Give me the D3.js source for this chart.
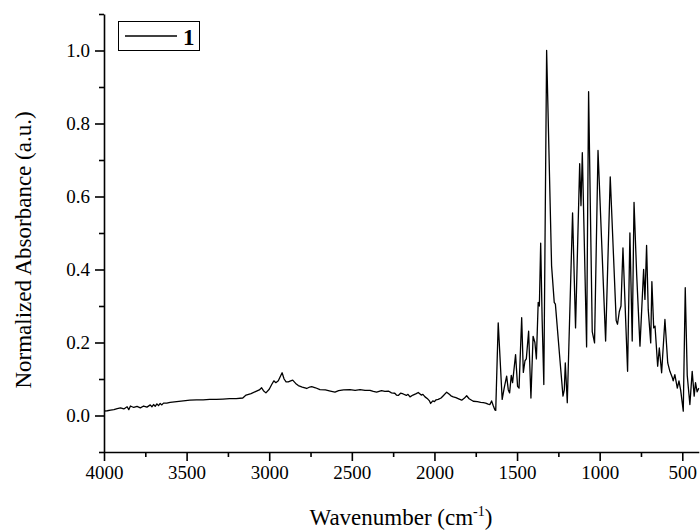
<!DOCTYPE html>
<html>
<head>
<meta charset="utf-8">
<script src="https://cdn.jsdelivr.net/npm/d3@7"></script>
<style>
  html, body { margin: 0; padding: 0; background: #fff; }
  svg { display: block; }
  svg text { font-family: "Liberation Serif", "Times New Roman", Times, Tinos, "DejaVu Serif", serif !important; fill: #000; }
</style>
</head>
<body>
<svg id="chart" width="700" height="531"></svg>
<script>
// ---- data ----
const wavenumber = [
  4000, 3980, 3960, 3940, 3920, 3900, 3880, 3860, 3850, 3840, 3820, 3800, 3780, 3760, 3740, 3720, 3710, 3700,
  3690, 3680, 3670, 3660, 3650, 3640, 3620, 3600, 3560, 3520, 3480, 3440, 3400, 3360, 3320, 3280, 3240, 3200,
  3160, 3140, 3110, 3080, 3060, 3046, 3035, 3020, 3000, 2985, 2972, 2960, 2945, 2935, 2922, 2910, 2898, 2885,
  2870, 2858, 2840, 2824, 2800, 2773, 2755, 2743, 2720, 2693, 2660, 2630, 2602, 2580, 2550, 2511, 2480, 2450,
  2420, 2390, 2370, 2350, 2320, 2300, 2279, 2260, 2240, 2230, 2219, 2205, 2189, 2170, 2160, 2148, 2130, 2110,
  2098, 2080, 2070, 2057, 2040, 2030, 2023, 2010, 2000, 1990, 1977, 1960, 1945, 1926, 1910, 1900, 1886, 1870,
  1850, 1835, 1820, 1805, 1790, 1765, 1740, 1720, 1704, 1690, 1675, 1664, 1654, 1645, 1634, 1629, 1614, 1590,
  1578, 1563, 1553, 1545, 1535, 1527, 1509, 1497, 1488, 1472, 1462, 1452, 1444, 1430, 1416, 1403, 1392, 1383,
  1372, 1365, 1357, 1348, 1338, 1321, 1291, 1275, 1268, 1240, 1222, 1214, 1208, 1196, 1164, 1146, 1121, 1113,
  1105, 1079, 1067, 1045, 1031, 1010, 964, 936, 900, 892, 881, 871, 859, 831, 817, 803, 792, 776,
  756, 734, 726, 716, 706, 691, 684, 673, 665, 649, 639, 625, 605, 588, 575, 561, 555, 545,
  530, 520, 510, 494, 482, 470, 454, 440, 428, 420, 410, 400
];
const absorbance = [
  0.012, 0.013, 0.015, 0.016, 0.019, 0.021, 0.018, 0.024, 0.016, 0.026, 0.022, 0.025, 0.021, 0.026, 0.023, 0.029, 0.024, 0.030,
  0.025, 0.032, 0.027, 0.033, 0.029, 0.034, 0.034, 0.036, 0.038, 0.040, 0.042, 0.043, 0.043, 0.044, 0.044, 0.045, 0.046, 0.046,
  0.048, 0.056, 0.060, 0.066, 0.070, 0.076, 0.068, 0.062, 0.072, 0.085, 0.095, 0.090, 0.095, 0.105, 0.117, 0.100, 0.092, 0.092,
  0.095, 0.097, 0.088, 0.082, 0.078, 0.074, 0.078, 0.079, 0.076, 0.071, 0.070, 0.067, 0.064, 0.068, 0.070, 0.071, 0.069, 0.071,
  0.069, 0.069, 0.066, 0.064, 0.068, 0.066, 0.067, 0.062, 0.061, 0.056, 0.055, 0.061, 0.059, 0.055, 0.058, 0.051, 0.056, 0.060,
  0.063, 0.056, 0.058, 0.051, 0.045, 0.040, 0.033, 0.040, 0.038, 0.043, 0.044, 0.048, 0.055, 0.064, 0.058, 0.054, 0.051, 0.049,
  0.045, 0.042, 0.047, 0.054, 0.046, 0.039, 0.038, 0.036, 0.035, 0.034, 0.031, 0.030, 0.040, 0.028, 0.015, 0.014, 0.254, 0.044,
  0.075, 0.108, 0.070, 0.062, 0.110, 0.090, 0.167, 0.080, 0.075, 0.268, 0.118, 0.150, 0.155, 0.231, 0.048, 0.217, 0.200, 0.155,
  0.310, 0.300, 0.472, 0.260, 0.085, 1.000, 0.410, 0.310, 0.305, 0.150, 0.053, 0.070, 0.144, 0.035, 0.555, 0.240, 0.690, 0.575,
  0.720, 0.188, 0.887, 0.230, 0.199, 0.726, 0.204, 0.654, 0.260, 0.250, 0.285, 0.300, 0.459, 0.121, 0.500, 0.204, 0.584, 0.386,
  0.190, 0.400, 0.318, 0.466, 0.290, 0.199, 0.367, 0.240, 0.245, 0.135, 0.185, 0.117, 0.263, 0.144, 0.121, 0.105, 0.095, 0.112,
  0.075, 0.095, 0.070, 0.012, 0.350, 0.110, 0.030, 0.121, 0.053, 0.090, 0.065, 0.075
];
const xMajorTicks = [4000, 3500, 3000, 2500, 2000, 1500, 1000, 500];
const xMinorTicks = [3750, 3250, 2750, 2250, 1750, 1250, 750];
const yMajorTicks = [0.0, 0.2, 0.4, 0.6, 0.8, 1.0];
const yMinorTicks = [-0.1, 0.1, 0.3, 0.5, 0.7, 0.9, 1.1];
const seriesName = "1";
const xTitle = "Wavenumber (cm";
const xTitleSup = "-1";
const yTitle = "Normalized Absorbance (a.u.)";

// ---- chart ----
const FONT = '"Liberation Serif", "Times New Roman", Times, Tinos, "DejaVu Serif", serif';
const svg = d3.select("#chart");
const x = d3.scaleLinear().domain([4000, 400]).range([104, 698.8]);
const y = d3.scaleLinear().domain([-0.1, 1.1]).range([452, 14]);

const data = wavenumber.map((w, i) => ({ w, a: absorbance[i] }));

// spectrum
svg.append("path")
  .datum(data)
  .attr("fill", "none")
  .attr("stroke", "#000")
  .attr("stroke-width", 1.3)
  .attr("stroke-linejoin", "round")
  .attr("d", d3.line().x(d => x(d.w)).y(d => y(d.a)));

// axes
function styleAxis(g) {
  g.attr("font-family", FONT);
  g.select(".domain").attr("stroke", "#000").attr("stroke-width", 1.6);
  g.selectAll(".tick line").attr("stroke", "#000").attr("stroke-width", 1.6);
  g.selectAll(".tick text").attr("font-family", FONT).style("font-size", "19px");
}

const xAxisG = svg.append("g").attr("transform", `translate(0,${y(-0.1)})`);
xAxisG.call(d3.axisBottom(x).tickValues(xMajorTicks).tickSize(9).tickPadding(5).tickFormat(d3.format("d")).tickSizeOuter(0));
styleAxis(xAxisG);
const xMinorG = svg.append("g").attr("transform", `translate(0,${y(-0.1)})`);
xMinorG.call(d3.axisBottom(x).tickValues(xMinorTicks).tickSize(5).tickFormat("").tickSizeOuter(0));
styleAxis(xMinorG);
xMinorG.select(".domain").remove();

const yAxisG = svg.append("g").attr("transform", `translate(${x(4000)},0)`);
yAxisG.call(d3.axisLeft(y).tickValues(yMajorTicks).tickSize(9).tickPadding(5).tickFormat(d3.format(".1f")).tickSizeOuter(0));
styleAxis(yAxisG);
const yMinorG = svg.append("g").attr("transform", `translate(${x(4000)},0)`);
yMinorG.call(d3.axisLeft(y).tickValues(yMinorTicks).tickSize(5).tickFormat("").tickSizeOuter(0));
styleAxis(yMinorG);
yMinorG.select(".domain").remove();

// axis titles
const xt = svg.append("text")
  .attr("x", 401).attr("y", 525)
  .attr("text-anchor", "middle")
  .attr("font-family", FONT)
  .style("font-size", "23px");
xt.append("tspan").text(xTitle);
xt.append("tspan").attr("dy", -9).style("font-size", "14px").text(xTitleSup);
xt.append("tspan").attr("dy", 9).text(")");

svg.append("text")
  .attr("transform", "translate(31,250) rotate(-90)")
  .attr("text-anchor", "middle")
  .attr("font-family", FONT)
  .style("font-size", "23px")
  .text(yTitle);

// legend
const lg = svg.append("g");
lg.append("rect").attr("x", 118.5).attr("y", 21.5).attr("width", 81).attr("height", 29)
  .attr("fill", "#fff").attr("stroke", "#000").attr("stroke-width", 1);
lg.append("line").attr("x1", 125).attr("x2", 177).attr("y1", 36).attr("y2", 36)
  .attr("stroke", "#000").attr("stroke-width", 1.3);
lg.append("text").attr("x", 183).attr("y", 45)
  .attr("font-family", FONT)
  .style("font-size", "23px").style("font-weight", "bold").text(seriesName);
</script>
</body>
</html>
